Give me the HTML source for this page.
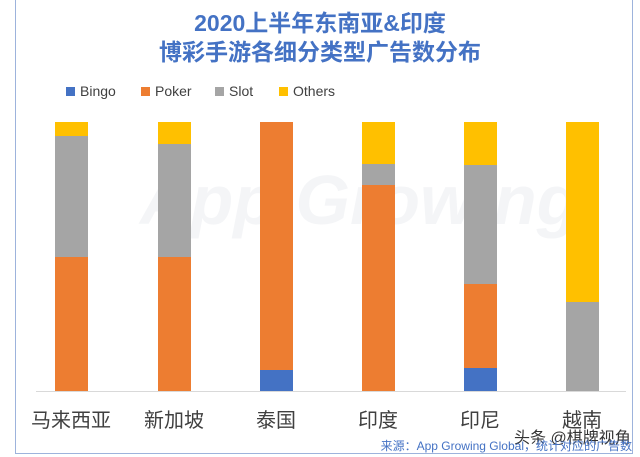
<!DOCTYPE html>
<html><head><meta charset="utf-8"><style>
body{margin:0;width:640px;height:457px;background:#fff;overflow:hidden;font-family:"Liberation Sans","Noto Sans CJK SC",sans-serif;position:relative}
.frame{position:absolute;left:15px;top:-2px;width:618px;height:456px;border:1px solid #9db3dc;box-sizing:border-box}
.t{position:absolute;left:0;width:640px;text-align:center;color:#4472c4;font-weight:bold;font-size:23px}
.b{position:absolute;width:33px}
.lab{position:absolute;top:404px;width:120px;text-align:center;font-size:20px;color:#404040}
.lg{position:absolute;top:83px;font-size:14px;color:#404040}
.lg i{display:inline-block;width:9px;height:9px;margin-right:5px}
</style></head><body>
<div class="frame"></div>
<div class="t" style="top:4px">2020上半年东南亚&amp;印度</div>
<div class="t" style="top:33px">博彩手游各细分类型广告数分布</div>
<div class="lg" style="left:66px"><i style="background:#4472c4"></i>Bingo</div>
<div class="lg" style="left:141px"><i style="background:#ed7d31"></i>Poker</div>
<div class="lg" style="left:215px"><i style="background:#a5a5a5"></i>Slot</div>
<div class="lg" style="left:279px"><i style="background:#ffc000"></i>Others</div>
<div style="position:absolute;left:140px;top:160px;font-size:70px;font-style:italic;font-weight:bold;color:rgba(200,205,215,0.2)">App Growing</div>
<div style="position:absolute;left:36px;top:391px;width:590px;height:1px;background:#d9d9d9"></div>

<div class="b" style="left:55px;top:122px;height:14px;background:#ffc000"></div>
<div class="b" style="left:55px;top:136px;height:121px;background:#a5a5a5"></div>
<div class="b" style="left:55px;top:257px;height:134px;background:#ed7d31"></div>

<div class="b" style="left:158px;top:122px;height:22px;background:#ffc000"></div>
<div class="b" style="left:158px;top:144px;height:113px;background:#a5a5a5"></div>
<div class="b" style="left:158px;top:257px;height:134px;background:#ed7d31"></div>

<div class="b" style="left:260px;top:122px;height:248px;background:#ed7d31"></div>
<div class="b" style="left:260px;top:370px;height:21px;background:#4472c4"></div>

<div class="b" style="left:362px;top:122px;height:42px;background:#ffc000"></div>
<div class="b" style="left:362px;top:164px;height:21px;background:#a5a5a5"></div>
<div class="b" style="left:362px;top:185px;height:206px;background:#ed7d31"></div>

<div class="b" style="left:464px;top:122px;height:43px;background:#ffc000"></div>
<div class="b" style="left:464px;top:165px;height:119px;background:#a5a5a5"></div>
<div class="b" style="left:464px;top:284px;height:84px;background:#ed7d31"></div>
<div class="b" style="left:464px;top:368px;height:23px;background:#4472c4"></div>

<div class="b" style="left:566px;top:122px;height:180px;background:#ffc000"></div>
<div class="b" style="left:566px;top:302px;height:89px;background:#a5a5a5"></div>

<div class="lab" style="left:11px">马来西亚</div>
<div class="lab" style="left:114px">新加坡</div>
<div class="lab" style="left:216px">泰国</div>
<div class="lab" style="left:318px">印度</div>
<div class="lab" style="left:420px">印尼</div>
<div class="lab" style="left:522px">越南</div>
<div style="position:absolute;left:514px;top:424px;font-size:16px;color:#333">头条 @棋牌视角</div>
<div style="position:absolute;right:8px;top:437px;font-size:12px;color:#4472c4">来源：App Growing Global，统计对应的广告数</div>
</body></html>
